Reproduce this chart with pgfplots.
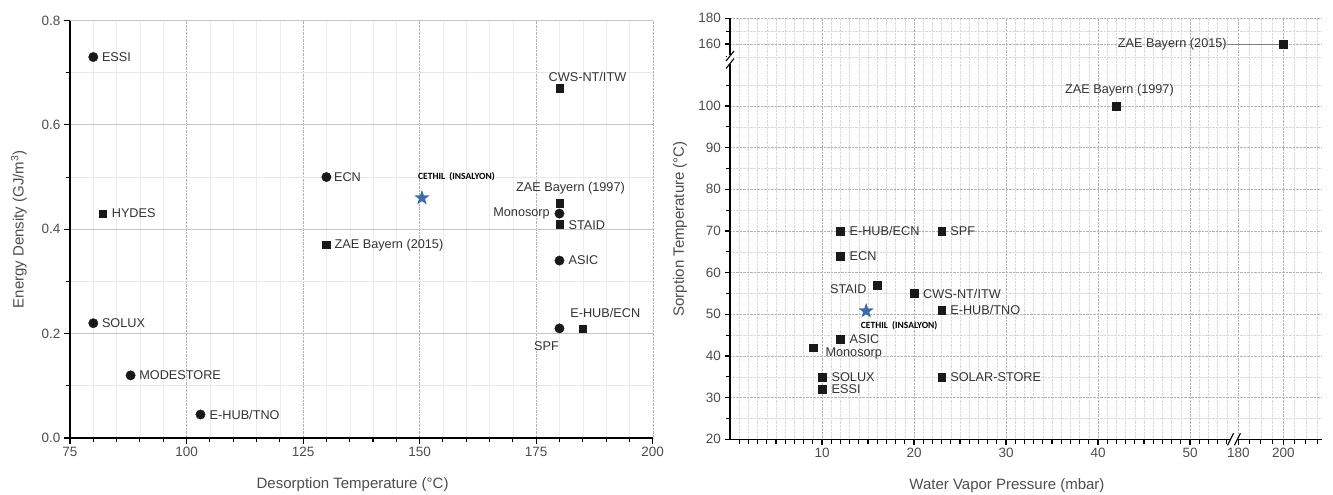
\documentclass[border=0pt]{standalone}
\usepackage{fontspec}
\setmainfont{Liberation Sans}
\newfontfamily\cfont{Carlito}
\usepackage{pgfplots}
\usepackage{pgfplotstable}
\pgfplotsset{compat=1.18}
\usetikzlibrary{plotmarks}
\definecolor{starblue}{HTML}{3C6BA5}
\definecolor{txt}{HTML}{333333}
\definecolor{tk}{HTML}{4D4D4D}

\pgfdeclareplotmark{fstar}{%
  \pgfpathmoveto{\pgfpointpolar{90}{\pgfplotmarksize}}%
  \pgfpathlineto{\pgfpointpolar{126}{0.4\pgfplotmarksize}}%
  \pgfpathlineto{\pgfpointpolar{162}{\pgfplotmarksize}}%
  \pgfpathlineto{\pgfpointpolar{198}{0.4\pgfplotmarksize}}%
  \pgfpathlineto{\pgfpointpolar{234}{\pgfplotmarksize}}%
  \pgfpathlineto{\pgfpointpolar{270}{0.4\pgfplotmarksize}}%
  \pgfpathlineto{\pgfpointpolar{306}{\pgfplotmarksize}}%
  \pgfpathlineto{\pgfpointpolar{342}{0.4\pgfplotmarksize}}%
  \pgfpathlineto{\pgfpointpolar{18}{\pgfplotmarksize}}%
  \pgfpathlineto{\pgfpointpolar{54}{0.4\pgfplotmarksize}}%
  \pgfpathclose
  \pgfusepathqfill}

\tikzset{
  lab/.style={font=\fontsize{12.7}{14}\selectfont, text=txt, inner sep=0pt},
  clab/.style={font=\cfont\bfseries\fontsize{9.5}{11}\selectfont, text=black, inner sep=0pt},
}
\pgfplotsset{
  every non boxed x axis/.append style={x axis line style={-}},
  every non boxed y axis/.append style={y axis line style={-}},
  base/.style={
    scale only axis, anchor=south west,
    axis lines=left,
    x axis line style={-}, y axis line style={-},
    axis line style={line width=1.3pt, black},
    tick align=outside,
    tick style={black, line width=1.1pt},
    major tick length=6pt, minor tick length=4.5pt,
    tick label style={font=\fontsize{13.5}{15}\selectfont, text=tk},
    label style={font=\fontsize{15}{18}\selectfont, text=tk},
    /pgf/number format/assume math mode=true,
    clip=false,
  },
}

% Left chart
\pgfplotstableread{
x y
80 0.73
130 0.50
180 0.43
180 0.34
180 0.21
80 0.22
88 0.12
103 0.045
}\LeftCircles
\pgfplotstableread{
x y
180 0.67
82 0.43
130 0.37
180 0.45
180 0.41
185 0.21
}\LeftSquares
\pgfplotstableread{
x y
150.5 0.46
}\LeftStar

% Right chart
\pgfplotstableread{
x y
200 160
42 100
12 70
23 70
12 64
16 57
20 55
23 51
12 44
9 42
10 35
10 32
23 35
}\RightSquares
\pgfplotstableread{
x y
14.8 50.8
}\RightStar

\begin{document}
\begin{tikzpicture}
\useasboundingbox (0,0) rectangle (1333pt,495pt);

\begin{axis}[base,
  at={(70pt,57pt)}, width=582.7pt, height=417.5pt,
  xmin=75, xmax=200, ymin=0, ymax=0.8,
  xtick={75,100,125,150,175,200},
  ytick={0,0.2,0.4,0.6,0.8}, yticklabels={0.0,0.2,0.4,0.6,0.8},
  minor x tick num=4, minor y tick num=1,
  xmajorgrids, xminorgrids, ymajorgrids, yminorgrids,
  major x grid style={densely dotted, gray!60},
  minor x grid style={gray!15},
  major y grid style={gray!45, line width=0.8pt},
  minor y grid style={gray!18, line width=0.8pt},
  xlabel={Desorption Temperature (°C)},
  ylabel={Energy Density (GJ/m\textsuperscript{3})},
  xlabel style={at={([yshift=-47pt]axis description cs:0.485,0)}, anchor=center},
  ylabel style={at={([xshift=-51pt]axis description cs:0,0.5)}, anchor=center},
]
\addplot[only marks, mark=*, mark size=4.7pt, color=black!90] table {\LeftCircles};
\addplot[only marks, mark=square*, mark size=3.7pt, color=black!90] table {\LeftSquares};
\addplot[only marks, mark=fstar, mark size=8pt, mark options={fill=starblue}, color=starblue] table {\LeftStar};

\node[lab, anchor=west] at ([xshift=8.5pt]axis cs:80,0.73) {ESSI};
\node[lab, anchor=west] at ([xshift=9pt]axis cs:82,0.43) {HYDES};
\node[lab, anchor=west] at ([xshift=7.5pt]axis cs:130,0.50) {ECN};
\node[lab, anchor=west] at ([xshift=8.5pt]axis cs:80,0.22) {SOLUX};
\node[lab, anchor=west] at ([xshift=8.5pt]axis cs:88,0.12) {MODESTORE};
\node[lab, anchor=west] at ([xshift=9pt]axis cs:103,0.045) {E-HUB/TNO};
\node[lab, anchor=west] at ([xshift=8pt]axis cs:130,0.37) {ZAE Bayern (2015)};
\node[lab, anchor=west] at ([xshift=9pt]axis cs:180,0.34) {ASIC};
\node[lab, anchor=west] at ([xshift=9pt,yshift=-1pt]axis cs:180,0.41) {STAID};
\node[lab, anchor=east] at ([xshift=-9.5pt]axis cs:180,0.43) {Monosorp};
\node[lab, anchor=center] at ([xshift=11pt,yshift=15pt]axis cs:180,0.45) {ZAE Bayern (1997)};
\node[lab, anchor=center] at ([xshift=28pt,yshift=11.5pt]axis cs:180,0.67) {CWS-NT/ITW};
\node[lab, anchor=center] at ([xshift=22.5pt,yshift=15pt]axis cs:185,0.21) {E-HUB/ECN};
\node[lab, anchor=center] at ([xshift=-13pt,yshift=-18pt]axis cs:180,0.21) {SPF};
\node[clab, anchor=center] at ([xshift=34.5pt,yshift=21.7pt]axis cs:150.5,0.46) {CETHIL\ \ (INSALYON)};
\end{axis}

\begin{axis}[base,
  at={(730pt,55.7pt)}, width=591.7pt, height=421pt,
  x coord trafo/.code={\pgfmathparse{#1<=100 ? #1 : 55.25+(#1-180)*0.245}},
  y coord trafo/.code={\pgfmathparse{#1<=130 ? #1 : 114.89+(#1-160)*0.3085}},
  xmin=0, xmax=217, ymin=20, ymax=180,
  xtick={10,20,30,40,50,180,200}, xticklabels={10,20,30,40,50,180,200},
  ytick={20,30,40,50,60,70,80,90,100,160,180},
  yticklabels={20,30,40,50,60,70,80,90,100,160,180},
  minor xtick={1,2,...,54,185,190,195,205,210,215},
  minor ytick={25,35,45,55,65,75,85,95,105,150,170},
  major tick length=5.5pt, minor tick length=4.5pt,
  xmajorgrids, xminorgrids, ymajorgrids, yminorgrids,
  major grid style={densely dotted, gray!60, line width=0.7pt},
  minor grid style={densely dotted, gray!30, line width=0.6pt},
  xlabel={Water Vapor Pressure (mbar)},
  ylabel={Sorption Temperature (°C)},
  xlabel style={at={([yshift=-46pt]axis description cs:0.468,0)}, anchor=center},
  ylabel style={at={([xshift=-50pt]axis description cs:0,0.5)}, anchor=center},
]
\draw[gray, line width=0.6pt] (axis cs:200,160) -- ++(-55pt,0pt);
\addplot[only marks, mark=square*, mark size=3.9pt, color=black!90] table {\RightSquares};
\addplot[only marks, mark=fstar, mark size=8pt, mark options={fill=starblue}, color=starblue] table {\RightStar};

\node[lab, anchor=west] at ([xshift=9pt]axis cs:12,70) {E-HUB/ECN};
\node[lab, anchor=west] at ([xshift=8.5pt]axis cs:23,70) {SPF};
\node[lab, anchor=west] at ([xshift=9pt]axis cs:12,64) {ECN};
\node[lab, anchor=east] at ([xshift=-10.5pt,yshift=-4pt]axis cs:16,57) {STAID};
\node[lab, anchor=west] at ([xshift=9pt]axis cs:20,55) {CWS-NT/ITW};
\node[lab, anchor=west] at ([xshift=8.5pt]axis cs:23,51) {E-HUB/TNO};
\node[lab, anchor=west] at ([xshift=9pt]axis cs:12,44) {ASIC};
\node[lab, anchor=west] at ([xshift=12.5pt,yshift=-5.7pt]axis cs:9,42) {Monosorp};
\node[lab, anchor=west] at ([xshift=9.4pt]axis cs:10,35) {SOLUX};
\node[lab, anchor=west] at ([xshift=9.4pt]axis cs:10,32) {ESSI};
\node[lab, anchor=west] at ([xshift=8.5pt]axis cs:23,35) {SOLAR-STORE};
\node[lab, anchor=center] at ([xshift=3pt,yshift=16pt]axis cs:42,100) {ZAE Bayern (1997)};
\node[lab, anchor=east] at ([xshift=-56.5pt]axis cs:200,160) {ZAE Bayern (2015)};
\node[clab, anchor=center] at ([xshift=33pt,yshift=-15pt]axis cs:14.8,50.8) {CETHIL\ \ (INSALYON)};

% axis breaks
\fill[white] ([xshift=-3pt]axis cs:0,110.0) rectangle ([xshift=3pt]axis cs:0,112.2);
\draw[black, line width=1.1pt] ([xshift=-4pt,yshift=-5pt]axis cs:0,112.0) -- ([xshift=4pt,yshift=5pt]axis cs:0,112.0);
\draw[black, line width=1.1pt] ([xshift=-4pt,yshift=-5pt]axis cs:0,110.2) -- ([xshift=4pt,yshift=5pt]axis cs:0,110.2);
\fill[white] ([yshift=-3pt]axis cs:54.4,20) rectangle ([yshift=3pt]axis cs:55.1,20);
\draw[black, line width=1.1pt] ([xshift=-3pt,yshift=-6pt]axis cs:54.4,20) -- ([xshift=3pt,yshift=6pt]axis cs:54.4,20);
\draw[black, line width=1.1pt] ([xshift=-3pt,yshift=-6pt]axis cs:55.15,20) -- ([xshift=3pt,yshift=6pt]axis cs:55.15,20);
\end{axis}
\end{tikzpicture}
\end{document}
